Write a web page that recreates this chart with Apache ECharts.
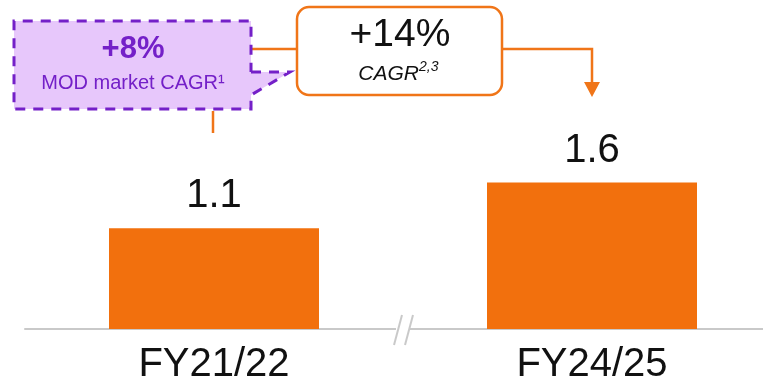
<!DOCTYPE html>
<html>
<head>
<meta charset="utf-8">
<script src="https://cdn.jsdelivr.net/npm/echarts@6/dist/echarts.min.js"></script>
<style>
  html, body { margin: 0; padding: 0; background: #fff; }
  #chart { width: 763px; height: 379px; }
</style>
</head>
<body>
<div id="chart"></div>
<script>
// Revenue by fiscal year
const categories = ['FY21/22', 'FY24/25'];
const values = [1.1, 1.6];

// Callout texts
const marketCagr = '+8%';
const marketCagrLabel = 'MOD market CAGR\u00B9';
const companyCagr = '+14%';
const companyCagrLabel = 'CAGR';
const companyCagrNote = '2,3';

const ORANGE = '#f2700d';
const LINE_ORANGE = '#f07518';
const PURPLE = '#7420c8';
const PURPLE_FILL = '#e7c7fb';
const GREY = '#c9c9c9';
const FONT = "'Liberation Sans', Arial, sans-serif";

const chart = echarts.init(document.getElementById('chart'));

const baseOption = {
  animation: false,
  grid: { left: 25, top: 54.5, width: 756, bottom: 50, outerBoundsMode: 'none' },
  xAxis: {
    type: 'category',
    data: categories,
    axisLine: { show: true, lineStyle: { color: GREY, width: 2 } },
    axisTick: { show: false },
    axisLabel: { color: '#111', fontFamily: FONT, fontSize: 40, margin: 16 }
  },
  yAxis: {
    type: 'value',
    min: 0,
    max: 3,
    show: false,
    splitLine: { show: false }
  },
  series: [{
    type: 'bar',
    data: values,
    barWidth: 210,
    itemStyle: { color: ORANGE },
    label: {
      show: true,
      position: 'top',
      distance: 12,
      color: '#111',
      fontFamily: FONT,
      fontSize: 40,
      formatter: p => p.value.toFixed(1)
    }
  }]
};

chart.setOption(baseOption);

// Anchor annotations on the bar positions from the axis scales
const axisY = chart.convertToPixel({ gridIndex: 0 }, [0, 0])[1];
const x1 = chart.convertToPixel({ xAxisIndex: 0 }, categories[0]);
const x2 = chart.convertToPixel({ xAxisIndex: 0 }, categories[1]);
const xBreak = (x1 + x2) / 2;

const graphics = [
  // axis break
  { type: 'rect', shape: { x: xBreak - 7, y: axisY - 3, width: 13, height: 6 }, style: { fill: '#fff' }, z: 10 },
  { type: 'line', shape: { x1: xBreak - 9, y1: axisY + 16, x2: xBreak - 1, y2: axisY - 14 }, style: { stroke: GREY, lineWidth: 2 }, z: 11 },
  { type: 'line', shape: { x1: xBreak + 2, y1: axisY + 16, x2: xBreak + 10, y2: axisY - 14 }, style: { stroke: GREY, lineWidth: 2 }, z: 11 },

  // market CAGR callout
  { type: 'rect', shape: { x: 14, y: 21, width: 237, height: 88 }, style: { fill: PURPLE_FILL }, z: 10 },
  { type: 'polygon', shape: { points: [[251, 72], [290, 72], [251, 95]] }, style: { fill: PURPLE_FILL }, z: 10 },
  {
    type: 'polyline',
    shape: { points: [[251, 72], [290, 72], [251, 95], [251, 109], [14, 109], [14, 21], [251, 21], [251, 72]] },
    style: { stroke: PURPLE, lineWidth: 3, lineDash: [10, 8], fill: null },
    z: 11
  },
  { type: 'text', x: 133, y: 49, style: { text: marketCagr, fill: PURPLE, font: `bold 31px ${FONT}`, align: 'center', verticalAlign: 'middle' }, z: 12 },
  { type: 'text', x: 133, y: 83, style: { text: marketCagrLabel, fill: PURPLE, font: `20px ${FONT}`, align: 'center', verticalAlign: 'middle' }, z: 12 },

  // connectors
  { type: 'line', shape: { x1: 252, y1: 49, x2: 297, y2: 49 }, style: { stroke: LINE_ORANGE, lineWidth: 2.5 }, z: 9 },
  { type: 'line', shape: { x1: x1 - 1, y1: 111, x2: x1 - 1, y2: 133 }, style: { stroke: LINE_ORANGE, lineWidth: 2.5 }, z: 9 },

  // company CAGR box
  { type: 'rect', shape: { x: 297, y: 7, width: 205, height: 88, r: 12 }, style: { fill: '#fff', stroke: LINE_ORANGE, lineWidth: 2.5 }, z: 10 },
  { type: 'text', x: 400, y: 35, style: { text: companyCagr, fill: '#111', font: `39px ${FONT}`, align: 'center', verticalAlign: 'middle' }, z: 12 },
  { type: 'text', x: 419, y: 74, style: { text: companyCagrLabel, fill: '#111', font: `italic 21px ${FONT}`, align: 'right', verticalAlign: 'middle' }, z: 12 },
  { type: 'text', x: 419, y: 67, style: { text: companyCagrNote, fill: '#111', font: `italic 14px ${FONT}`, align: 'left', verticalAlign: 'middle' }, z: 12 },

  // arrow to the latest bar
  {
    type: 'polyline',
    shape: { points: [[503, 49], [x2, 49], [x2, 84]] },
    style: { stroke: LINE_ORANGE, lineWidth: 2.5, fill: null },
    z: 9
  },
  { type: 'polygon', shape: { points: [[x2 - 8, 82], [x2 + 8, 82], [x2, 97]] }, style: { fill: LINE_ORANGE }, z: 9 }
];

chart.setOption({ graphic: graphics });
</script>
</body>
</html>
